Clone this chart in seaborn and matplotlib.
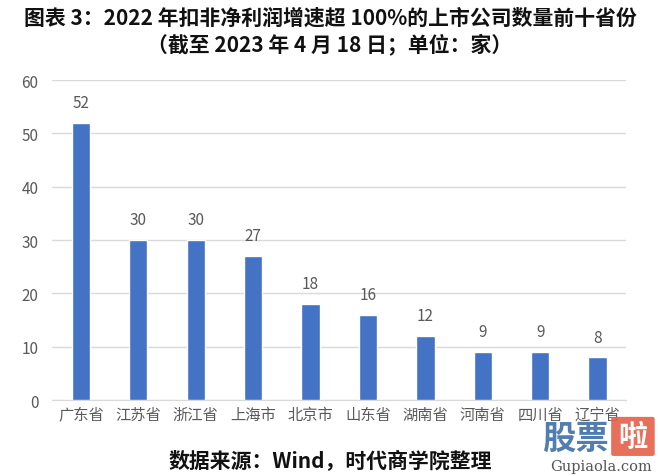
import pandas as pd
import matplotlib.pyplot as plt
import seaborn as sns
from matplotlib.patches import FancyBboxPatch

# chart data
provinces = ["广东省", "江苏省", "浙江省", "上海市", "北京市", "山东省", "湖南省", "河南省", "四川省", "辽宁省"]
counts = [52, 30, 30, 27, 18, 16, 12, 9, 9, 8]
y_ticks = [0, 10, 20, 30, 40, 50, 60]

title_1 = "图表 3：2022 年扣非净利润增速超 100%的上市公司数量前十省份"
title_2 = "（截至 2023 年 4 月 18 日；单位：家）"
source_text = "数据来源：Wind，时代商学院整理"

df = pd.DataFrame({"province": provinces, "count": counts})

sns.set_style("white")
plt.rcParams['font.family'] = ['Noto Sans CJK SC', 'DejaVu Sans']

fig = plt.figure(figsize=(6.6, 4.77), dpi=100)
ax = fig.add_axes([0.079, 0.159, 0.870, 0.671])

sns.barplot(data=df, x="province", y="count", color="#4472C4", width=0.32,
            saturation=1, ax=ax, zorder=3)

# value labels above bars
for i, v in enumerate(counts):
    ax.text(i, v + 2.2, str(v), ha="center", va="bottom", fontsize=11, color="#595959")

ax.set_ylim(0, 60)
ax.set_xlim(-0.5, len(provinces) - 0.5)
ax.set_yticks(y_ticks)
ax.yaxis.grid(True, color="#d9d9d9", linewidth=1, zorder=0)
for s in ["top", "right", "left"]:
    ax.spines[s].set_visible(False)
ax.spines["bottom"].set_color("#d9d9d9")
ax.tick_params(axis="both", length=0, labelsize=11, colors="#595959")
ax.tick_params(axis="y", pad=10)
ax.tick_params(axis="x", pad=4)
ax.set_xlabel("")
ax.set_ylabel("")

fig.text(0.5, 0.963, title_1, ha="center", va="center", fontsize=15,
         fontweight="bold", color="#111111")
fig.text(0.5, 0.905, title_2, ha="center", va="center", fontsize=15,
         fontweight="bold", color="#111111")
fig.text(0.5, 0.033, source_text, ha="center", va="center", fontsize=15,
         fontweight="bold", color="#111111")

# watermark
fig.text(0.872, 0.080, "股票", ha="center", va="center", fontsize=24,
         fontweight="bold", color="#3f6fa8", alpha=0.9)
fig.patches.append(FancyBboxPatch((0.930, 0.046), 0.058, 0.074,
                                  boxstyle="round,pad=0.004", transform=fig.transFigure,
                                  facecolor="#e4614a", edgecolor="none", alpha=0.9))
fig.text(0.959, 0.083, "啦", ha="center", va="center", fontsize=21,
         fontweight="bold", color="white")
fig.text(0.910, 0.020, "Gupiaola.com", ha="center", va="center", fontsize=10.5,
         family=["DejaVu Serif"], color="#555555")

fig.savefig("out.png", dpi=100)
